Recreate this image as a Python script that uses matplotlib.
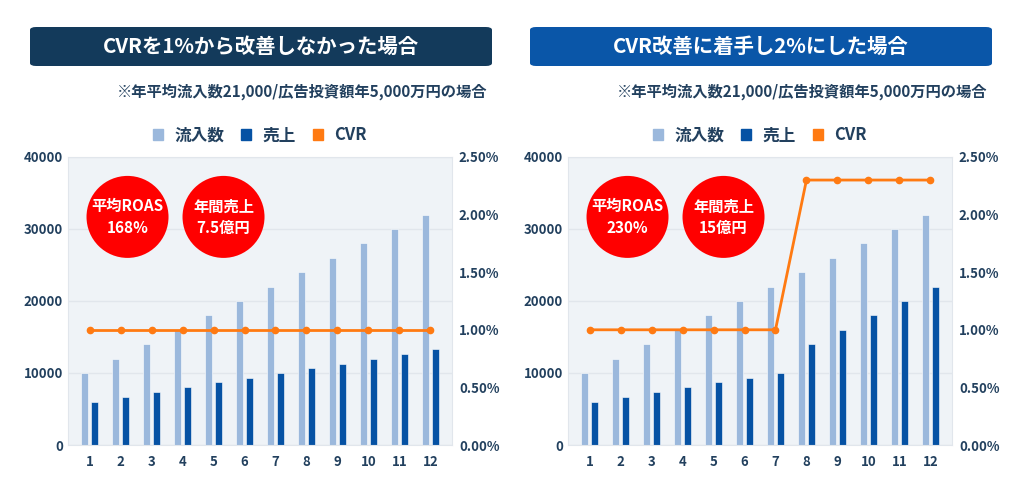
import matplotlib
matplotlib.use("Agg")
import matplotlib.pyplot as plt
from matplotlib.patches import Patch, Ellipse, FancyBboxPatch
from matplotlib.ticker import FuncFormatter

plt.rcParams['font.family'] = ['Noto Sans CJK JP', 'DejaVu Sans']
plt.rcParams['font.weight'] = 'bold'

months = list(range(1, 13))
visits = [10000, 12000, 14000, 16000, 18000, 20000, 22000, 24000, 26000, 28000, 30000, 32000]
sales_a = [6000, 6700, 7300, 8000, 8700, 9300, 10000, 10700, 11300, 12000, 12700, 13300]
sales_b = [6000, 6700, 7300, 8000, 8700, 9300, 10000, 14000, 16000, 18000, 20000, 22000]
cvr_a = [0.01] * 12
cvr_b = [0.01] * 7 + [0.023] * 5

titles = ["CVRを1%から改善しなかった場合", "CVR改善に着手し2%にした場合"]
title_colors = ["#133a5b", "#0a56a8"]
note = "※年平均流入数21,000/広告投資額年5,000万円の場合"
badges = [("平均ROAS\n168%", "年間売上\n7.5億円"), ("平均ROAS\n230%", "年間売上\n15億円")]

c_light = "#9bb8dc"
c_dark = "#0652a4"
c_orange = "#ff7a12"
c_text = "#22405e"
c_grid = "#e1e6ec"

fig = plt.figure(figsize=(10.24, 4.9), dpi=100)

panels = [(sales_a, cvr_a), (sales_b, cvr_b)]
box_x = [30, 530]
ax_left = [68, 568]

for i, (sales, cvr) in enumerate(panels):
    # title box
    x0 = box_x[i] / 1024
    box = FancyBboxPatch((x0, 424 / 490), 462 / 1024, 39 / 490,
                         boxstyle="round,pad=0,rounding_size=0.006",
                         transform=fig.transFigure, facecolor=title_colors[i],
                         edgecolor="none")
    fig.add_artist(box)
    fig.text(x0 + 231 / 1024, 444 / 490, titles[i], color="white",
             fontsize=14.7, fontweight="bold", ha="center", va="center")
    fig.text((box_x[i] + 457) / 1024, 398 / 490, note, color=c_text,
             fontsize=11, fontweight="bold", ha="right", va="center")

    ax = fig.add_axes([ax_left[i] / 1024, 45 / 490, 384 / 1024, 288 / 490])
    ax.set_facecolor("#eff3f7")
    for s in ax.spines.values():
        s.set_color(c_grid)
    ax.bar([m - 0.155 for m in months], visits, width=0.22, color=c_light,
           edgecolor="white", linewidth=0.4, zorder=2)
    ax.bar([m + 0.155 for m in months], sales, width=0.22, color=c_dark,
           edgecolor="white", linewidth=0.4, zorder=2)
    ax.set_ylim(0, 40000)
    ax.set_xlim(0.3, 12.7)
    ax.set_yticks([0, 10000, 20000, 30000, 40000])
    ax.set_xticks(months)
    ax.yaxis.grid(True, color=c_grid, linewidth=1, zorder=0)
    ax.set_axisbelow(True)
    ax.tick_params(length=0, colors=c_text, labelsize=9.5)
    ax.tick_params(axis='x', pad=7)
    for lab in ax.get_xticklabels() + ax.get_yticklabels():
        lab.set_fontweight("bold")

    ax2 = ax.twinx()
    ax2.plot(months, cvr, color=c_orange, linewidth=2, marker="o",
             markersize=4.5, zorder=5)
    ax2.set_ylim(0, 0.025)
    ax2.set_yticks([0, 0.005, 0.01, 0.015, 0.02, 0.025])
    ax2.yaxis.set_major_formatter(FuncFormatter(lambda v, p: f"{v * 100:.2f}%"))
    ax2.tick_params(length=0, colors=c_text, labelsize=9.5, pad=5)
    for lab in ax2.get_yticklabels():
        lab.set_fontweight("bold")
    for s in ax2.spines.values():
        s.set_visible(False)

    handles = [Patch(color=c_light, label="流入数"),
               Patch(color=c_dark, label="売上"),
               Patch(color=c_orange, label="CVR")]
    leg = ax2.legend(handles=handles, loc="center", bbox_to_anchor=(0.5, 1.075),
                     ncol=3, frameon=False, fontsize=12, handlelength=0.6,
                     handleheight=0.6, columnspacing=1.0, handletextpad=0.7)
    for t in leg.get_texts():
        t.set_color(c_text)
        t.set_fontweight("bold")

    for cx, label in zip([0.155, 0.405], badges[i]):
        ax2.add_patch(Ellipse((cx, 0.792), 82 / 384, 82 / 288, transform=ax2.transAxes,
                              facecolor="#ff0000", edgecolor="none", zorder=6))
        ax2.text(cx, 0.792, label, transform=ax2.transAxes, color="white",
                 fontsize=11, fontweight="bold", ha="center", va="center",
                 linespacing=1.4, zorder=7)

fig.savefig("out.png", dpi=100, facecolor="white")
